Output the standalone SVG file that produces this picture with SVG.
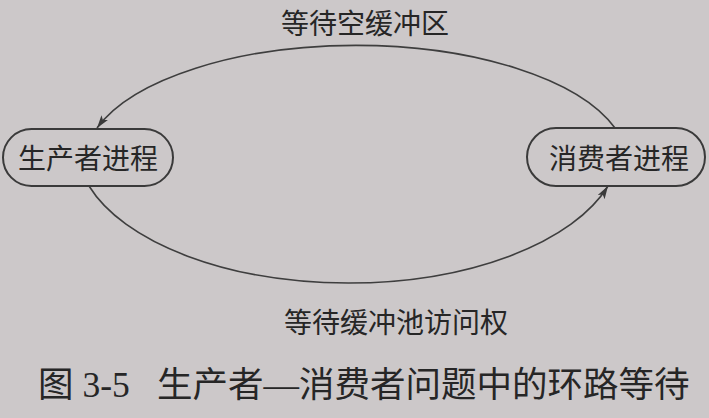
<svg xmlns="http://www.w3.org/2000/svg" width="709" height="418" viewBox="0 0 709 418">
  <style>
    .bg { fill: #ccc8c9; }
    .node { fill: #ccc8c9; stroke: #3a3a3a; stroke-width: 2; }
    .edge { fill: none; stroke: #3e3e3e; stroke-width: 1.6; }
    .lbl { font-family: "Noto Sans CJK SC", sans-serif; font-size: 28px; fill: #262626; text-anchor: middle; }
    .cap { font-family: "Liberation Serif", "Noto Sans CJK SC", serif; font-size: 35.5px; fill: #262626; }
  </style>
  <defs>
    <marker id="arrow" markerUnits="userSpaceOnUse" markerWidth="14" markerHeight="10" refX="13" refY="5" orient="auto">
      <path d="M0,1 L13,5 L0,9 L3,5 Z" fill="#3a3a3a"/>
    </marker>
  </defs>
  <rect class="bg" x="0" y="0" width="709" height="418"/>

  <g id="connectors">
    <path id="edge-wait-empty" class="edge" d="M615,128 A272 119 0 0 0 97,128" marker-end="url(#arrow)"/>
    <path id="edge-wait-access" class="edge" d="M89,186 A272 138.5 0 0 0 608,186" marker-end="url(#arrow)"/>
  </g>

  <g id="producer">
    <rect class="node" x="3" y="129" width="170" height="57" rx="28.5"/>
    <text class="lbl" x="88" y="168.5">生产者进程</text>
  </g>

  <g id="consumer">
    <rect class="node" x="527" y="128" width="178" height="58" rx="29"/>
    <text class="lbl" x="619" y="168.5">消费者进程</text>
  </g>

  <g id="label-top">
    <text class="lbl" x="365" y="34">等待空缓冲区</text>
  </g>
  <g id="label-bottom">
    <text class="lbl" x="396" y="332.5">等待缓冲池访问权</text>
  </g>

  <g id="caption">
    <text class="cap" x="38" y="397">图 3-5</text>
    <text class="cap" x="157" y="397">生产者—消费者问题中的环路等待</text>
  </g>
</svg>
